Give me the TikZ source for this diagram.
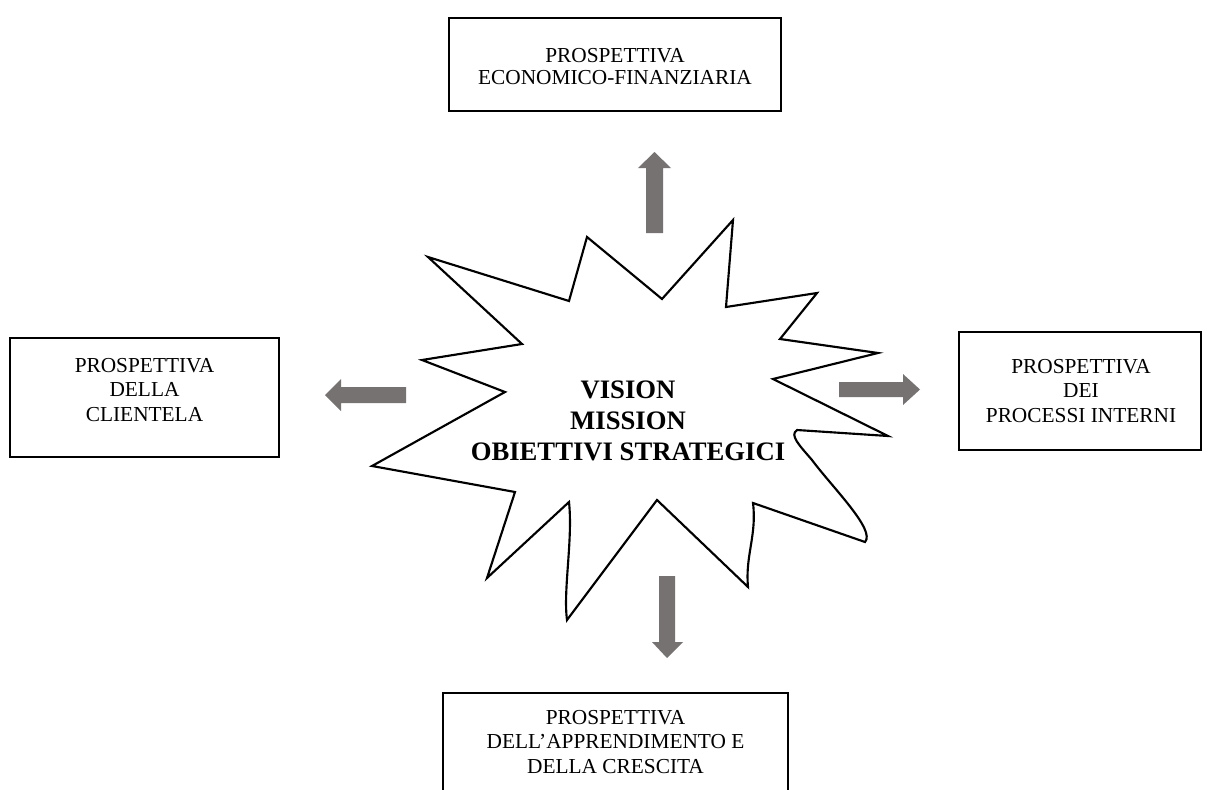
\documentclass[tikz,border=0pt]{standalone}
\usepackage{fontspec}
\setmainfont{Liberation Serif}
\definecolor{arrowgray}{RGB}{118,114,114}
\tikzset{
  frame/.style={draw=black, line width=1.5pt, inner sep=0pt},
  persp/.style={align=center, inner sep=0pt,
    font=\fontsize{16}{18.5}\selectfont},
  blockarrow/.style={fill=arrowgray},
  burst/.style={draw=black, line width=1.6pt, line join=miter, fill=white},
}
\begin{document}
\begin{tikzpicture}[x=0.75pt, y=-0.75pt]
\useasboundingbox (0,0) rectangle (1210,789);

% central burst
\draw[burst] (428,257) -- (569,301) -- (587,237) -- (662,299) -- (733,220)
  -- (726,307) -- (817,293) -- (780,339) -- (878,353) -- (773,379)
  -- (888,436) -- (797,430)
  .. controls (789,435) and (800,446) .. (812,460)
  .. controls (832,487) and (876,530) .. (865,542)
  -- (753,503) .. controls (757,535) and (745,556) .. (748,587)
  -- (657,500) -- (567,620)
  .. controls (563,590) and (573,540) .. (569,502)
  -- (487,578) -- (515,492) -- (372,466) -- (505,392) -- (422,360)
  -- (522,344) -- cycle;
\node[font=\fontsize{20}{23.3}\selectfont\bfseries, align=center] (core)
  at (628,421) {VISION\\MISSION\\OBIETTIVI STRATEGICI};

% perspective frames
\node[frame, minimum width=249pt, minimum height=69.75pt] (econ) at (615,64.5) {};
\node[frame, minimum width=201.75pt, minimum height=89.25pt] (client) at (144.5,397.5) {};
\node[frame, minimum width=181.5pt, minimum height=88.5pt] (proc) at (1080,391) {};
\node[frame, minimum width=258.75pt, minimum height=90pt, anchor=north] (learn) at (615.5,692) {};

% perspective labels
\node[persp, font=\fontsize{16}{16.5}\selectfont] (econtext) at (615,67)
  {PROSPETTIVA\\ECONOMICO-FINANZIARIA};
\node[persp] (clienttext) at (144.5,390) {PROSPETTIVA\\DELLA\\CLIENTELA};
\node[persp] (proctext) at (1081,391) {PROSPETTIVA\\DEI\\PROCESSI INTERNI};
\node[persp] (learntext) at (615.5,742)
  {PROSPETTIVA\\DELL’APPRENDIMENTO E\\DELLA CRESCITA};

% block arrows pointing out of the burst
\fill[blockarrow] (646,233) -- (646,168) -- (638,168) -- (654.5,152)
  -- (671,168) -- (663,168) -- (663,233) -- cycle;
\fill[blockarrow] (406,387) -- (341,387) -- (341,379) -- (325,395)
  -- (341,411) -- (341,403) -- (406,403) -- cycle;
\fill[blockarrow] (839,382) -- (903,382) -- (903,374) -- (920,389.5)
  -- (903,405) -- (903,397) -- (839,397) -- cycle;
\fill[blockarrow] (659,576) -- (659,642) -- (652,642) -- (667,658)
  -- (683,642) -- (675,642) -- (675,576) -- cycle;
\end{tikzpicture}
\end{document}
